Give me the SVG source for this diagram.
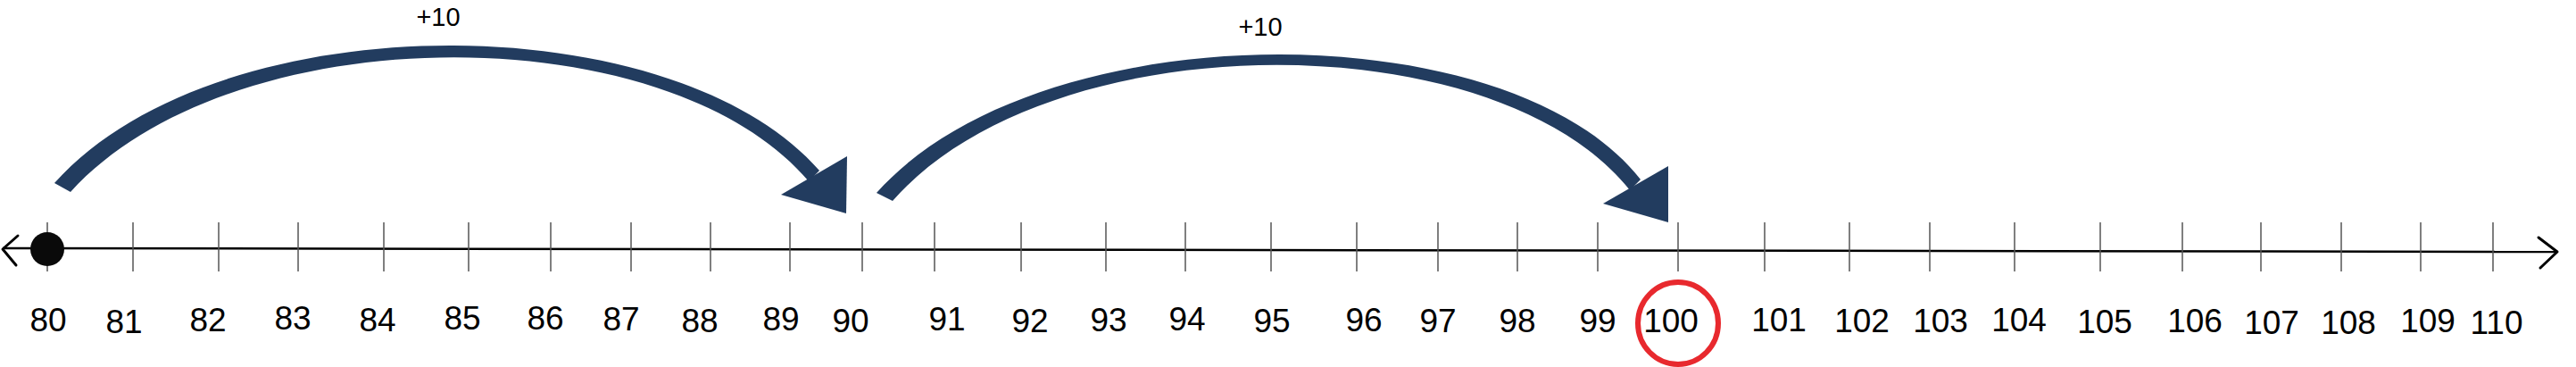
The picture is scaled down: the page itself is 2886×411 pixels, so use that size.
<svg xmlns="http://www.w3.org/2000/svg" width="2886" height="411" viewBox="0 0 2886 411">
<style>
.tick{stroke:#555;stroke-width:1.5}
.lbl{font-family:"Liberation Sans",Arial,sans-serif;font-size:37px;fill:#000;text-anchor:middle}
.jmp{font-family:"Liberation Sans",Arial,sans-serif;font-size:29px;fill:#000;text-anchor:middle}
.arc{fill:#223c5f;stroke:none}
.head{fill:#223c5f}
</style>
<rect width="2886" height="411" fill="#fff"/>
<g id="axis">
<line x1="3" y1="278" x2="2865" y2="282" stroke="#000" stroke-width="2.5"/>
<polyline points="20,264 3,279 18,297" fill="none" stroke="#000" stroke-width="3" stroke-linecap="round" stroke-linejoin="round"/>
<polyline points="2844,266 2865,282 2846,300" fill="none" stroke="#000" stroke-width="3" stroke-linecap="round" stroke-linejoin="round"/>
</g>
<g id="ticks">
<line class="tick" x1="53" y1="249" x2="53" y2="304"/>
<line class="tick" x1="149" y1="249" x2="149" y2="304"/>
<line class="tick" x1="245" y1="249" x2="245" y2="304"/>
<line class="tick" x1="334" y1="249" x2="334" y2="304"/>
<line class="tick" x1="430" y1="249" x2="430" y2="304"/>
<line class="tick" x1="525" y1="249" x2="525" y2="304"/>
<line class="tick" x1="617" y1="249" x2="617" y2="304"/>
<line class="tick" x1="707" y1="249" x2="707" y2="304"/>
<line class="tick" x1="796" y1="249" x2="796" y2="304"/>
<line class="tick" x1="885" y1="249" x2="885" y2="304"/>
<line class="tick" x1="966" y1="249" x2="966" y2="304"/>
<line class="tick" x1="1047" y1="249" x2="1047" y2="304"/>
<line class="tick" x1="1144" y1="249" x2="1144" y2="304"/>
<line class="tick" x1="1239" y1="249" x2="1239" y2="304"/>
<line class="tick" x1="1328" y1="249" x2="1328" y2="304"/>
<line class="tick" x1="1424" y1="249" x2="1424" y2="304"/>
<line class="tick" x1="1520" y1="249" x2="1520" y2="304"/>
<line class="tick" x1="1611" y1="249" x2="1611" y2="304"/>
<line class="tick" x1="1700" y1="249" x2="1700" y2="304"/>
<line class="tick" x1="1790" y1="249" x2="1790" y2="304"/>
<line class="tick" x1="1880" y1="249" x2="1880" y2="304"/>
<line class="tick" x1="1977" y1="249" x2="1977" y2="304"/>
<line class="tick" x1="2072" y1="249" x2="2072" y2="304"/>
<line class="tick" x1="2162" y1="249" x2="2162" y2="304"/>
<line class="tick" x1="2257" y1="249" x2="2257" y2="304"/>
<line class="tick" x1="2353" y1="249" x2="2353" y2="304"/>
<line class="tick" x1="2445" y1="249" x2="2445" y2="304"/>
<line class="tick" x1="2533" y1="249" x2="2533" y2="304"/>
<line class="tick" x1="2623" y1="249" x2="2623" y2="304"/>
<line class="tick" x1="2712" y1="249" x2="2712" y2="304"/>
<line class="tick" x1="2793" y1="249" x2="2793" y2="304"/>
</g>
<g id="labels">
<text class="lbl" x="54" y="371">80</text>
<text class="lbl" x="139" y="373">81</text>
<text class="lbl" x="233" y="371">82</text>
<text class="lbl" x="328" y="369">83</text>
<text class="lbl" x="423" y="371">84</text>
<text class="lbl" x="518" y="369">85</text>
<text class="lbl" x="611" y="369">86</text>
<text class="lbl" x="696" y="370">87</text>
<text class="lbl" x="784" y="372">88</text>
<text class="lbl" x="875" y="370">89</text>
<text class="lbl" x="953" y="372">90</text>
<text class="lbl" x="1061" y="370">91</text>
<text class="lbl" x="1154" y="372">92</text>
<text class="lbl" x="1242" y="371">93</text>
<text class="lbl" x="1330" y="370">94</text>
<text class="lbl" x="1425" y="372">95</text>
<text class="lbl" x="1528" y="371">96</text>
<text class="lbl" x="1611" y="372">97</text>
<text class="lbl" x="1700" y="372">98</text>
<text class="lbl" x="1790" y="372">99</text>
<text class="lbl" x="1872" y="372">100</text>
<text class="lbl" x="1993" y="371">101</text>
<text class="lbl" x="2086" y="372">102</text>
<text class="lbl" x="2174" y="372">103</text>
<text class="lbl" x="2262" y="371">104</text>
<text class="lbl" x="2358" y="373">105</text>
<text class="lbl" x="2459" y="372">106</text>
<text class="lbl" x="2545" y="374">107</text>
<text class="lbl" x="2631" y="374">108</text>
<text class="lbl" x="2720" y="372">109</text>
<text class="lbl" x="2797" y="374">110</text>
</g>
<g id="start-point">
<circle cx="53" cy="279" r="19" fill="#0a0a0a"/>
</g>
<g id="answer">
<ellipse cx="1880" cy="362" rx="45" ry="46" fill="none" stroke="#e8292e" stroke-width="6"/>
</g>
<g id="connectors">
<path class="arc" d="M61,205 C242,2 752,2 918,191 L906,203 C748,16 260,16 79,215 Z"/>
<polygon class="head" points="949,175 875,218 948,239"/>
<path class="arc" d="M982,216 C1162,13 1690,11 1838,201 L1826,213 C1676,24 1176,24 1000,225 Z"/>
<polygon class="head" points="1869,186 1796,228 1869,249"/>
</g>
<g id="jump-labels">
<text class="jmp" x="491" y="29">+10</text>
<text class="jmp" x="1412" y="40">+10</text>
</g>
</svg>
